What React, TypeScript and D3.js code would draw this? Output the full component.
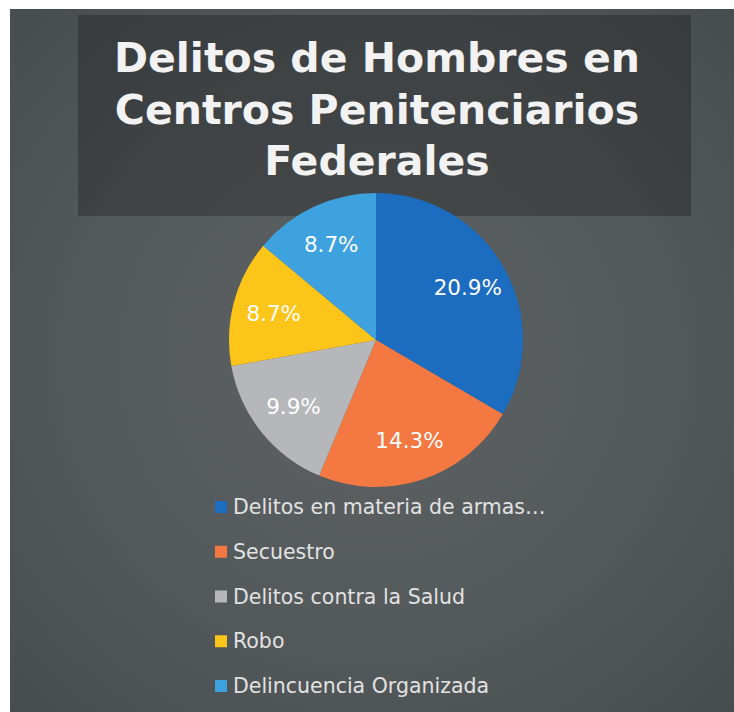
import React from "react";
import * as d3 from "d3";

const categories = [
  "Delitos en materia de armas…",
  "Secuestro",
  "Delitos contra la Salud",
  "Robo",
  "Delincuencia Organizada",
];
const values = [20.9, 14.3, 9.9, 8.7, 8.7];
const labels = ["20.9%", "14.3%", "9.9%", "8.7%", "8.7%"];
const colors = ["#1c6cbf", "#f47842", "#b6b7bb", "#fdc41a", "#3ea2df"];
const titleLines = ["Delitos de Hombres en", "Centros Penitenciarios", "Federales"];

const W = 734;
const H = 712;

export default function App() {
  const cx = 376;
  const cy = 340;
  const R = 147;
  const pie = d3.pie<number>().sort(null).value((d) => d)(values);
  const arc = d3.arc<d3.PieArcDatum<number>>().innerRadius(0).outerRadius(R);
  const labelArc = d3.arc<d3.PieArcDatum<number>>().innerRadius(R * 0.72).outerRadius(R * 0.72);

  const legendY = d3.scaleLinear().domain([0, categories.length - 1]).range([507, 686]);

  return (
    <svg
      width={W}
      height={H}
      style={{ position: "absolute", left: 0, top: 0, display: "block" }}
    >
      <defs>
        <radialGradient id="bg" cx="50%" cy="50%" r="70%">
          <stop offset="0%" stopColor="#5e6264" />
          <stop offset="60%" stopColor="#53585a" />
          <stop offset="100%" stopColor="#474c4e" />
        </radialGradient>
      </defs>
      <rect x={0} y={0} width={W} height={H} fill="#ffffff" />
      <rect x={10} y={9} width={W - 10} height={H - 9} fill="url(#bg)" />
      <rect x={78} y={15} width={613} height={201} fill="#000000" opacity={0.24} />
      <g
        fontFamily="'DejaVu Sans', Verdana, sans-serif"
        fontWeight="bold"
        fontSize={41}
        fill="#f2f2f2"
        textAnchor="middle"
      >
        {titleLines.map((t, i) => (
          <text key={i} x={377} y={72 + i * 51.5}>
            {t}
          </text>
        ))}
      </g>
      <g transform={`translate(${cx},${cy})`}>
        {pie.map((d, i) => (
          <path key={i} d={arc(d) || ""} fill={colors[i]} />
        ))}
        {pie.map((d, i) => {
          const [x, y] = labelArc.centroid(d);
          return (
            <text
              key={i}
              x={x}
              y={y}
              dy="0.36em"
              textAnchor="middle"
              fontFamily="'DejaVu Sans', Verdana, sans-serif"
              fontSize={21.5}
              fill="#ffffff"
            >
              {labels[i]}
            </text>
          );
        })}
      </g>
      <g fontFamily="'DejaVu Sans', Verdana, sans-serif" fontSize={20.5} fill="#e2e2e2">
        {categories.map((c, i) => (
          <g key={i} transform={`translate(0,${legendY(i)})`}>
            <rect x={215} y={-6} width={12} height={12} fill={colors[i]} />
            <text x={233} y={7}>
              {c}
            </text>
          </g>
        ))}
      </g>
    </svg>
  );
}
